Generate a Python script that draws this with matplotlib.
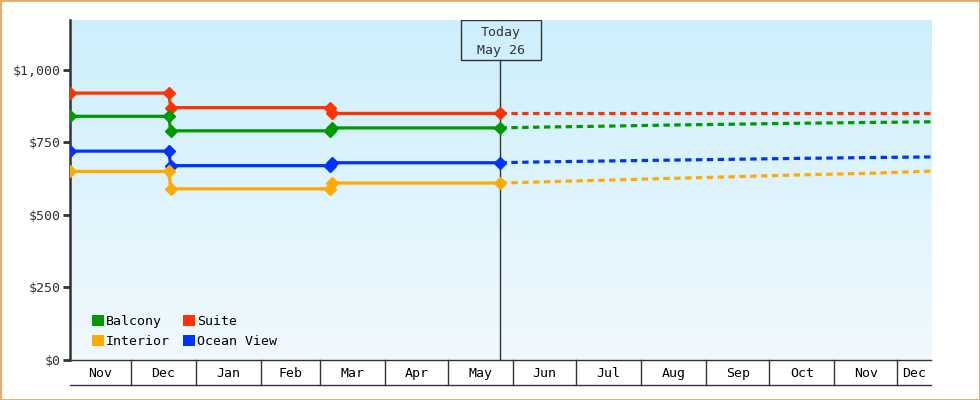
import numpy as np
import pandas as pd
import matplotlib
matplotlib.use("Agg")
import matplotlib.pyplot as plt
import matplotlib.transforms as mtransforms
from matplotlib.patches import Rectangle, Patch

plt.rcParams['font.family'] = ['DejaVu Sans Mono', 'DejaVu Sans']

# data
hist_dates = ["2024-11-02", "2024-12-19", "2024-12-20", "2025-03-06", "2025-03-07", "2025-05-26"]
fc_dates = ["2025-05-26", "2025-06-15", "2025-07-15", "2025-08-15", "2025-09-15",
            "2025-10-15", "2025-11-20", "2025-12-17"]

balcony_hist = [840, 840, 790, 790, 800, 800]
suite_hist = [920, 920, 870, 870, 850, 850]
ocean_hist = [720, 720, 670, 670, 680, 680]
interior_hist = [650, 650, 590, 590, 610, 610]

balcony_fc = [800, 803, 806, 810, 813, 816, 819, 821]
suite_fc = [850, 850, 850, 850, 850, 850, 850, 850]
ocean_fc = [680, 683, 686, 689, 692, 695, 698, 700]
interior_fc = [610, 614, 620, 626, 632, 638, 644, 651]

names = ["Balcony", "Interior", "Suite", "Ocean View"]
colors = {"Balcony": "#009900", "Suite": "#ff3300", "Ocean View": "#0033ff", "Interior": "#ffaa00"}

today = pd.Timestamp("2025-05-26")
xmin = pd.Timestamp("2024-11-02")
xmax = pd.Timestamp("2025-12-17")
yticks = [0, 250, 500, 750, 1000]

hd = pd.to_datetime(hist_dates)
fd = pd.to_datetime(fc_dates)

fig = plt.figure(figsize=(9.8, 4.0), dpi=100)
ax = fig.add_axes([70 / 980, 40 / 400, 861 / 980, 340 / 400])

# gradient background
grad = np.linspace(0, 1, 256).reshape(-1, 1)
top = np.array([205, 239, 252]) / 255
bot = np.array([240, 249, 254]) / 255
img = top[None, None, :] * (1 - grad[:, :, None]) + bot[None, None, :] * grad[:, :, None]
ax.imshow(img, extent=[0, 1, 0, 1], transform=ax.transAxes, aspect='auto', zorder=0)

series = [
    ("Suite", suite_hist, suite_fc),
    ("Balcony", balcony_hist, balcony_fc),
    ("Ocean View", ocean_hist, ocean_fc),
    ("Interior", interior_hist, interior_fc),
]
for name, h, f in series:
    c = colors[name]
    ax.plot(hd, h, color=c, lw=2.3, marker='D', ms=6.5, zorder=3)
    ax.plot(fd, f, color=c, lw=2.3, dashes=(2.0, 1.4), zorder=3)

ax.set_xlim(xmin, xmax)
ax.set_ylim(0, 1172)
ax.set_yticks(yticks)
ax.set_yticklabels(["$" + format(v, ",") for v in yticks], fontsize=9.5, color="#333333")
ax.tick_params(axis='y', length=5, width=2, color="#333333", pad=2)
ax.set_xticks([])

for s in ["top", "right"]:
    ax.spines[s].set_visible(False)
ax.spines["left"].set_linewidth(1.8)
ax.spines["left"].set_color("#333333")
ax.spines["bottom"].set_linewidth(1.0)
ax.spines["bottom"].set_color("#333333")

# month strip under the axis
trans = mtransforms.blended_transform_factory(ax.transData, ax.transAxes)
strip = -25 / 340
starts = pd.date_range("2024-12-01", "2025-12-01", freq="MS")
for d in starts:
    ax.plot([d, d], [0, strip], transform=trans, color="#333333", lw=1.0, clip_on=False)
ax.plot([xmin, xmax], [strip, strip], transform=trans, color="#333333", lw=1.0, clip_on=False)
edges = [xmin] + list(starts) + [xmax]
for a, b in zip(edges[:-1], edges[1:]):
    mid = a + (b - a) / 2
    ax.text(mid, strip / 2 - 0.003, a.strftime("%b") if a != xmin else "Nov", transform=trans,
            ha='center', va='center', fontsize=9.5, color="black", clip_on=False)

# today marker
tx = (today - xmin) / (xmax - xmin)
bw = 80 / 861
bh = 40 / 340
ax.plot([today, today], [0, 1 - bh], transform=trans, color="#333333", lw=1.0, zorder=2)
ax.add_patch(Rectangle((tx - bw / 2, 1 - bh), bw, bh, transform=ax.transAxes,
                       facecolor='none', edgecolor="#333333", lw=1.0, zorder=4))
ax.text(tx, 1 - bh / 2 - 0.004, "Today\n" + today.strftime("%b %d").replace(" 0", " "),
        transform=ax.transAxes, ha='center', va='center', fontsize=9.5,
        color="#333333", linespacing=1.55, zorder=5)

handles = [Patch(facecolor=colors[n], edgecolor='none', label=n) for n in names]
ax.legend(handles=handles, loc='lower left', ncol=2, frameon=False, fontsize=9.5,
          handlelength=0.9, handleheight=0.9, handletextpad=0.15, columnspacing=1.0,
          labelspacing=0.55, bbox_to_anchor=(0.012, 0.0))

fig.add_artist(Rectangle((0, 0), 1, 1, transform=fig.transFigure, facecolor='none',
                         edgecolor="#e8a860", lw=2))

fig.savefig("out.png", dpi=100)
